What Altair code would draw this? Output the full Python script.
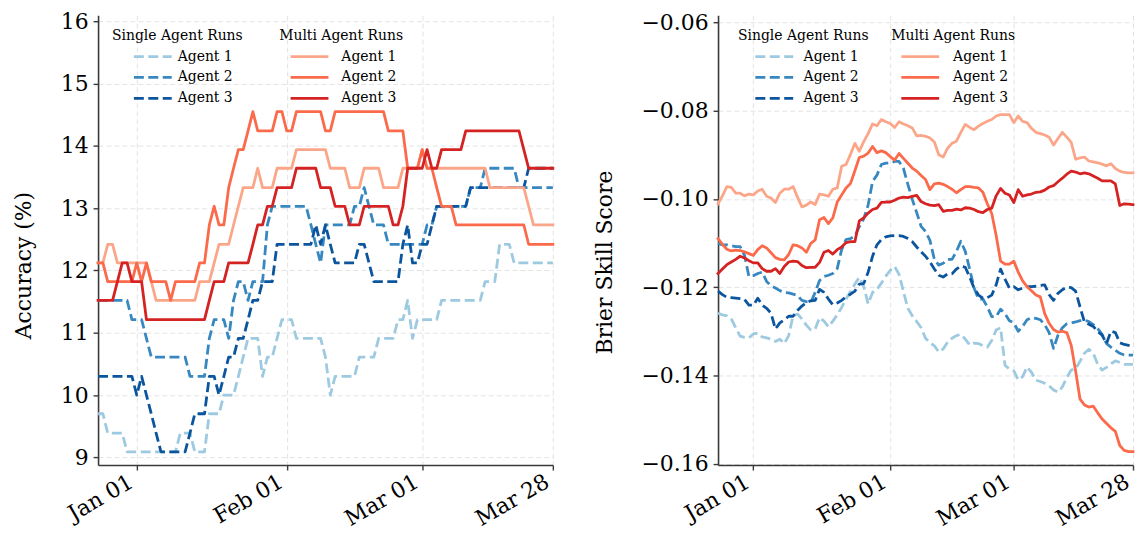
import altair as alt
import pandas as pd

# ---------------- data ----------------
dates = [d.strftime("%Y-%m-%dT00:00:00") for d in pd.date_range("2024-12-24", "2025-03-28", freq="D")]
agents = ["Agent 1", "Agent 2", "Agent 3"]

acc_single_1 = [9.70, 9.70, 9.39, 9.39, 9.39, 9.39, 9.09, 9.09, 9.09, 9.09,
                9.09, 9.09, 9.09, 9.09, 9.09, 9.09, 9.09, 9.39, 9.39, 9.39,
                9.09, 9.09, 9.09, 9.70, 9.70, 9.70, 10.00, 10.00, 10.00, 10.30,
                10.61, 10.91, 10.91, 10.91, 10.30, 10.61, 10.61, 10.91, 11.21, 11.21,
                11.21, 10.91, 10.91, 10.91, 10.91, 10.91, 10.91, 10.61, 10.00, 10.30,
                10.30, 10.30, 10.30, 10.30, 10.61, 10.61, 10.61, 10.61, 10.91, 10.91,
                10.91, 10.91, 11.21, 11.21, 11.52, 10.91, 11.21, 11.21, 11.21, 11.21,
                11.21, 11.52, 11.52, 11.52, 11.52, 11.52, 11.52, 11.52, 11.52, 11.52,
                11.82, 11.82, 11.82, 12.42, 12.42, 12.42, 12.12, 12.12, 12.12, 12.12,
                12.12, 12.12, 12.12, 12.12, 12.12]
acc_single_2 = [11.52, 11.52, 11.52, 11.52, 11.52, 11.52, 11.52, 11.21, 11.21, 11.21,
                10.91, 10.61, 10.61, 10.61, 10.61, 10.61, 10.61, 10.61, 10.61, 10.30,
                10.30, 10.30, 10.30, 10.91, 11.21, 11.21, 11.21, 10.91, 11.52, 11.82,
                11.82, 11.52, 11.82, 11.82, 11.82, 12.73, 13.03, 13.03, 13.03, 13.03,
                13.03, 13.03, 13.03, 13.03, 12.73, 12.42, 12.12, 12.73, 12.73, 12.73,
                12.73, 12.73, 12.73, 13.03, 13.03, 13.33, 13.03, 12.73, 12.73, 12.73,
                12.42, 12.42, 12.42, 12.42, 12.42, 12.42, 12.42, 12.42, 12.73, 12.73,
                13.03, 13.03, 13.03, 13.03, 13.03, 13.03, 13.03, 13.33, 13.33, 13.33,
                13.64, 13.64, 13.64, 13.64, 13.64, 13.64, 13.64, 13.33, 13.33, 13.33,
                13.33, 13.33, 13.33, 13.33, 13.33]
acc_single_3 = [10.30, 10.30, 10.30, 10.30, 10.30, 10.30, 10.30, 10.30, 10.00, 10.30,
                10.00, 9.70, 9.39, 9.09, 9.09, 9.09, 9.09, 9.09, 9.09, 9.39,
                9.70, 9.70, 9.70, 10.30, 10.30, 10.00, 10.30, 10.61, 10.61, 10.91,
                10.91, 11.21, 11.52, 11.52, 11.82, 11.82, 11.82, 12.42, 12.42, 12.42,
                12.42, 12.42, 12.42, 12.42, 12.42, 12.73, 12.42, 12.73, 12.42, 12.12,
                12.12, 12.12, 12.12, 12.12, 12.42, 12.42, 12.12, 11.82, 11.82, 11.82,
                11.82, 11.82, 11.82, 12.42, 12.73, 12.12, 12.12, 12.42, 12.42, 12.73,
                13.03, 13.03, 13.03, 13.03, 13.03, 13.03, 13.03, 13.33, 13.33, 13.33,
                13.33, 13.33, 13.33, 13.33, 13.33, 13.33, 13.33, 13.33, 13.33, 13.64,
                13.64, 13.64, 13.64, 13.64, 13.64]
acc_multi_1 = [12.12, 12.12, 12.42, 12.42, 12.12, 12.12, 12.12, 12.12, 12.12, 12.12,
               12.12, 11.82, 11.52, 11.52, 11.52, 11.52, 11.52, 11.52, 11.52, 11.52,
               11.52, 11.82, 11.82, 11.82, 12.12, 12.42, 12.42, 12.42, 12.73, 13.03,
               13.33, 13.33, 13.33, 13.64, 13.33, 13.33, 13.33, 13.64, 13.64, 13.64,
               13.64, 13.94, 13.94, 13.94, 13.94, 13.94, 13.94, 13.94, 13.64, 13.64,
               13.64, 13.64, 13.33, 13.33, 13.33, 13.64, 13.64, 13.64, 13.64, 13.33,
               13.33, 13.33, 13.33, 13.64, 13.64, 13.64, 13.64, 13.94, 13.64, 13.64,
               13.64, 13.64, 13.64, 13.64, 13.64, 13.64, 13.64, 13.64, 13.64, 13.64,
               13.64, 13.33, 13.33, 13.33, 13.33, 13.33, 13.33, 13.33, 13.33, 13.03,
               12.73, 12.73, 12.73, 12.73, 12.73]
acc_multi_2 = [12.12, 12.12, 11.82, 11.82, 11.82, 11.82, 11.82, 11.82, 12.12, 11.82,
               12.12, 11.82, 11.82, 11.82, 11.82, 11.52, 11.82, 11.82, 11.82, 11.82,
               11.82, 12.12, 12.12, 12.73, 13.03, 12.73, 12.73, 13.33, 13.64, 13.94,
               13.94, 14.24, 14.55, 14.24, 14.24, 14.24, 14.24, 14.55, 14.55, 14.24,
               14.24, 14.55, 14.55, 14.55, 14.55, 14.55, 14.55, 14.24, 14.24, 14.55,
               14.55, 14.55, 14.55, 14.55, 14.55, 14.55, 14.55, 14.55, 14.55, 14.55,
               14.24, 14.24, 14.24, 14.24, 13.64, 13.64, 13.64, 13.94, 13.64, 13.64,
               13.33, 13.03, 13.03, 13.03, 12.73, 12.73, 12.73, 12.73, 12.73, 12.73,
               12.73, 12.73, 12.73, 12.73, 12.73, 12.73, 12.73, 12.73, 12.73, 12.42,
               12.42, 12.42, 12.42, 12.42, 12.42]
acc_multi_3 = [11.52, 11.52, 11.52, 11.52, 11.82, 12.12, 12.12, 11.82, 11.82, 11.82,
               11.21, 11.21, 11.21, 11.21, 11.21, 11.21, 11.21, 11.21, 11.21, 11.21,
               11.21, 11.21, 11.21, 11.52, 11.82, 11.82, 11.82, 12.12, 12.12, 12.12,
               12.12, 12.12, 12.42, 12.73, 12.73, 13.03, 13.03, 13.33, 13.33, 13.33,
               13.33, 13.64, 13.64, 13.64, 13.64, 13.64, 13.33, 13.33, 13.33, 13.03,
               13.03, 13.03, 12.73, 12.73, 12.73, 13.03, 13.03, 13.03, 13.03, 13.03,
               13.03, 12.73, 12.73, 13.03, 13.64, 13.64, 13.64, 13.64, 13.94, 13.64,
               13.64, 13.94, 13.94, 13.94, 13.94, 13.94, 14.24, 14.24, 14.24, 14.24,
               14.24, 14.24, 14.24, 14.24, 14.24, 14.24, 14.24, 14.24, 13.94, 13.64,
               13.64, 13.64, 13.64, 13.64, 13.64]

bss_single_1 = [-0.1259, -0.1263, -0.1265, -0.1272, -0.1292, -0.1311, -0.1314, -0.1315, -0.1306, -0.1304,
                -0.1313, -0.1315, -0.1318, -0.1323, -0.1318, -0.1328, -0.1310, -0.1265, -0.1261, -0.1272,
                -0.1286, -0.1297, -0.1295, -0.1269, -0.1277, -0.1290, -0.1277, -0.1263, -0.1246, -0.1227,
                -0.1210, -0.1193, -0.1178, -0.1198, -0.1238, -0.1212, -0.1205, -0.1191, -0.1175, -0.1162,
                -0.1153, -0.1171, -0.1210, -0.1248, -0.1265, -0.1278, -0.1292, -0.1316, -0.1326, -0.1333,
                -0.1347, -0.1340, -0.1325, -0.1316, -0.1310, -0.1307, -0.1318, -0.1331, -0.1327, -0.1328,
                -0.1333, -0.1336, -0.1321, -0.1297, -0.1292, -0.1377, -0.1386, -0.1390, -0.1410, -0.1403,
                -0.1381, -0.1393, -0.1411, -0.1414, -0.1418, -0.1424, -0.1433, -0.1438, -0.1426, -0.1405,
                -0.1388, -0.1385, -0.1368, -0.1350, -0.1341, -0.1350, -0.1375, -0.1388, -0.1382, -0.1374,
                -0.1367, -0.1371, -0.1375, -0.1375, -0.1375]
bss_single_2 = [-0.1101, -0.1104, -0.1104, -0.1106, -0.1108, -0.1108, -0.1128, -0.1176, -0.1174, -0.1169,
                -0.1166, -0.1187, -0.1197, -0.1202, -0.1208, -0.1212, -0.1213, -0.1216, -0.1219, -0.1230,
                -0.1233, -0.1235, -0.1212, -0.1185, -0.1176, -0.1173, -0.1169, -0.1158, -0.1115, -0.1092,
                -0.1090, -0.1084, -0.1063, -0.1045, -0.1014, -0.0960, -0.0946, -0.0922, -0.0919, -0.0919,
                -0.0915, -0.0915, -0.0931, -0.0967, -0.1001, -0.1031, -0.1062, -0.1074, -0.1094, -0.1137,
                -0.1150, -0.1146, -0.1137, -0.1137, -0.1119, -0.1096, -0.1119, -0.1159, -0.1202, -0.1227,
                -0.1227, -0.1245, -0.1267, -0.1267, -0.1250, -0.1260, -0.1276, -0.1281, -0.1300, -0.1289,
                -0.1274, -0.1269, -0.1271, -0.1274, -0.1285, -0.1303, -0.1339, -0.1309, -0.1292, -0.1283,
                -0.1281, -0.1279, -0.1276, -0.1275, -0.1278, -0.1285, -0.1294, -0.1307, -0.1328, -0.1336,
                -0.1343, -0.1350, -0.1354, -0.1354, -0.1354]
bss_single_3 = [-0.1209, -0.1217, -0.1223, -0.1224, -0.1225, -0.1226, -0.1228, -0.1241, -0.1241, -0.1225,
                -0.1241, -0.1248, -0.1259, -0.1295, -0.1281, -0.1274, -0.1266, -0.1266, -0.1253, -0.1243,
                -0.1235, -0.1231, -0.1230, -0.1205, -0.1212, -0.1227, -0.1240, -0.1236, -0.1230, -0.1222,
                -0.1216, -0.1209, -0.1193, -0.1192, -0.1166, -0.1130, -0.1104, -0.1092, -0.1086, -0.1084,
                -0.1083, -0.1083, -0.1085, -0.1090, -0.1097, -0.1109, -0.1120, -0.1130, -0.1143, -0.1159,
                -0.1173, -0.1177, -0.1170, -0.1170, -0.1159, -0.1152, -0.1155, -0.1177, -0.1202, -0.1218,
                -0.1225, -0.1224, -0.1218, -0.1195, -0.1159, -0.1182, -0.1202, -0.1199, -0.1206, -0.1202,
                -0.1199, -0.1199, -0.1198, -0.1196, -0.1195, -0.1217, -0.1230, -0.1214, -0.1206, -0.1200,
                -0.1201, -0.1209, -0.1245, -0.1279, -0.1284, -0.1289, -0.1301, -0.1309, -0.1328, -0.1300,
                -0.1303, -0.1326, -0.1330, -0.1332, -0.1332]
bss_multi_1 = [-0.1011, -0.0993, -0.0972, -0.0974, -0.0987, -0.0987, -0.0993, -0.0989, -0.0991, -0.0982,
               -0.0978, -0.0994, -0.0998, -0.1008, -0.0987, -0.0978, -0.0978, -0.0972, -0.0996, -0.1018,
               -0.1014, -0.1007, -0.1013, -0.0989, -0.0991, -0.0994, -0.0978, -0.0975, -0.0926, -0.0922,
               -0.0899, -0.0874, -0.0892, -0.0870, -0.0852, -0.0830, -0.0834, -0.0820, -0.0825, -0.0829,
               -0.0838, -0.0825, -0.0830, -0.0834, -0.0839, -0.0857, -0.0856, -0.0858, -0.0862, -0.0871,
               -0.0900, -0.0905, -0.0885, -0.0874, -0.0869, -0.0849, -0.0831, -0.0838, -0.0843, -0.0835,
               -0.0829, -0.0824, -0.0820, -0.0812, -0.0809, -0.0809, -0.0809, -0.0827, -0.0812, -0.0824,
               -0.0827, -0.0840, -0.0849, -0.0852, -0.0855, -0.0860, -0.0878, -0.0863, -0.0849, -0.0860,
               -0.0872, -0.0910, -0.0907, -0.0905, -0.0914, -0.0916, -0.0918, -0.0921, -0.0925, -0.0920,
               -0.0931, -0.0937, -0.0940, -0.0941, -0.0941]
bss_multi_2 = [-0.1090, -0.1103, -0.1114, -0.1118, -0.1116, -0.1117, -0.1120, -0.1124, -0.1128, -0.1115,
               -0.1106, -0.1111, -0.1122, -0.1133, -0.1137, -0.1138, -0.1126, -0.1104, -0.1106, -0.1111,
               -0.1121, -0.1101, -0.1093, -0.1047, -0.1042, -0.1056, -0.1043, -0.1007, -0.0991, -0.0975,
               -0.0965, -0.0936, -0.0906, -0.0903, -0.0896, -0.0881, -0.0895, -0.0891, -0.0895, -0.0904,
               -0.0912, -0.0897, -0.0908, -0.0919, -0.0930, -0.0937, -0.0947, -0.0956, -0.0979, -0.0966,
               -0.0964, -0.0967, -0.0972, -0.0978, -0.0986, -0.0979, -0.0972, -0.0972, -0.0974, -0.0975,
               -0.0985, -0.1011, -0.1033, -0.1083, -0.1141, -0.1148, -0.1148, -0.1141, -0.1166, -0.1186,
               -0.1199, -0.1208, -0.1218, -0.1222, -0.1260, -0.1282, -0.1296, -0.1302, -0.1300, -0.1303,
               -0.1332, -0.1390, -0.1454, -0.1467, -0.1472, -0.1470, -0.1485, -0.1499, -0.1509, -0.1519,
               -0.1527, -0.1559, -0.1570, -0.1573, -0.1573]
bss_multi_3 = [-0.1169, -0.1159, -0.1149, -0.1143, -0.1137, -0.1130, -0.1134, -0.1140, -0.1145, -0.1145,
               -0.1158, -0.1164, -0.1164, -0.1158, -0.1169, -0.1153, -0.1143, -0.1141, -0.1142, -0.1151,
               -0.1156, -0.1155, -0.1155, -0.1144, -0.1121, -0.1117, -0.1125, -0.1115, -0.1109, -0.1099,
               -0.1097, -0.1097, -0.1050, -0.1043, -0.1032, -0.1024, -0.1021, -0.1008, -0.1007, -0.1007,
               -0.1003, -0.0998, -0.0996, -0.0997, -0.0994, -0.0992, -0.1006, -0.1011, -0.1014, -0.1015,
               -0.1013, -0.1028, -0.1026, -0.1026, -0.1023, -0.1025, -0.1020, -0.1021, -0.1024, -0.1029,
               -0.1031, -0.1024, -0.1021, -0.0993, -0.0976, -0.0987, -0.0991, -0.1008, -0.0979, -0.0994,
               -0.0991, -0.0989, -0.0985, -0.0984, -0.0980, -0.0973, -0.0970, -0.0961, -0.0953, -0.0944,
               -0.0937, -0.0939, -0.0943, -0.0941, -0.0943, -0.0948, -0.0953, -0.0959, -0.0959, -0.0959,
               -0.0966, -0.1015, -0.1011, -0.1012, -0.1013]

x_ticks = ["Jan 01", "Feb 01", "Mar 01", "Mar 28"]
acc_ticks = [9, 10, 11, 12, 13, 14, 15, 16]
bss_ticks = [-0.16, -0.14, -0.12, -0.10, -0.08, -0.06]

blues = ["#9ecae1", "#3787c0", "#0b559f"]
reds = ["#fca689", "#fb6a4a", "#d42322"]

rows = []
groups = [
    ("Single", [acc_single_1, acc_single_2, acc_single_3], [bss_single_1, bss_single_2, bss_single_3]),
    ("Multi", [acc_multi_1, acc_multi_2, acc_multi_3], [bss_multi_1, bss_multi_2, bss_multi_3]),
]
for grp, accs, bsss in groups:
    for agent, acc, bss in zip(agents, accs, bsss):
        for d, a, b in zip(dates, acc, bss):
            rows.append({"date": d, "group": grp, "agent": agent, "acc": a, "bss": b})
df = pd.DataFrame(rows)

FONT = "DejaVu Serif"
DASH = [10, 4.5]
LW = 2.8
HANDLE = "M-1.9,0L1.9,0"   # long horizontal legend handle

tick_dates = [alt.DateTime(year=2025, month=1, date=1), alt.DateTime(year=2025, month=2, date=1),
              alt.DateTime(year=2025, month=3, date=1), alt.DateTime(year=2025, month=3, date=28)]


def make_legend(title, lx, ly, offset, loff, dash=None):
    kw = dict(title=title, orient="none", legendX=lx, legendY=ly, direction="vertical",
              titleFont=FONT, titleFontSize=14, titleFontWeight="normal", titleColor="#000",
              titlePadding=2, labelFont=FONT, labelFontSize=14, labelColor="#000",
              labelOffset=loff, symbolType=HANDLE, symbolSize=400, symbolStrokeWidth=LW,
              symbolOffset=offset, rowPadding=2, padding=0)
    if dash is not None:
        kw["symbolDash"] = dash
    return alt.Legend(**kw)


def panel(field, ytitle, ydomain, yticks, yfmt, width, height, title_y, leg):
    x = alt.X("date:T",
              scale=alt.Scale(domain=[alt.DateTime(year=2024, month=12, date=24),
                                      alt.DateTime(year=2025, month=3, date=28)]),
              axis=alt.Axis(values=tick_dates, format="%b %d", title=None, labelAngle=-30,
                            labelAlign="right", labelBaseline="top", labelFlush=False,
                            labelOverlap=False, labelOffset=-11, labelPadding=1))
    y = alt.Y(f"{field}:Q", scale=alt.Scale(domain=ydomain, nice=False, zero=False),
              axis=alt.Axis(values=yticks, format=yfmt, title=ytitle, labelOverlap=False,
                            labelPadding=5, titlePadding=25, titleY=title_y))
    base = alt.Chart(df)
    single = base.transform_filter(alt.datum.group == "Single").mark_line(
        strokeDash=DASH, strokeWidth=LW, strokeCap="butt", strokeJoin="round"
    ).encode(
        x=x, y=y,
        color=alt.Color("agent:N", scale=alt.Scale(domain=agents, range=blues),
                        legend=make_legend("Single Agent Runs", leg[0], 14, leg[1], leg[2], DASH)),
    )
    multi = base.transform_filter(alt.datum.group == "Multi").mark_line(
        strokeWidth=LW, strokeCap="square", strokeJoin="round"
    ).encode(
        x=x, y=y,
        color=alt.Color("agent:N", scale=alt.Scale(domain=agents, range=reds),
                        legend=make_legend("Multi Agent Runs", leg[3], 14, leg[4], leg[5])),
    )
    return alt.layer(single, multi).resolve_scale(color="independent").properties(width=width, height=height)


left = panel("acc", "Accuracy (%)", [8.877, 16.0958], acc_ticks, "d", 457, 452, 251,
             (14, 29.5, 13.5, 182, 19, 20.5))
right = panel("bss", "Brier Skill Score", [-0.160338, -0.058353], bss_ticks, ".2f", 417, 452, 248,
              (20, 25, 18, 174, 17.7, 21.5))

chart = alt.hconcat(left, right, spacing=38).resolve_scale(color="independent").properties(
    padding={"left": 4.5, "top": 0, "right": 0, "bottom": 0}
).configure(font=FONT).configure_view(stroke=None).configure_axis(
    labelFont=FONT, labelFontSize=22, labelColor="#000",
    titleFont=FONT, titleFontSize=22, titleFontWeight="normal", titleColor="#000",
    domainColor="#3a3a3a", domainWidth=1.6, tickColor="#3a3a3a", tickWidth=1.4, tickSize=5,
    gridColor="#e3e3e3", gridDash=[5, 3], gridWidth=1,
)

chart.save("out.html", embed_options={"renderer": "svg", "actions": False})
